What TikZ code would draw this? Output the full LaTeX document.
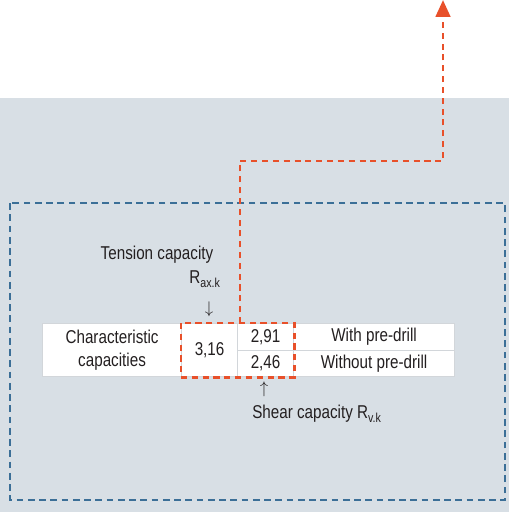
\documentclass[tikz,border=0pt]{standalone}
\usepackage{fontspec}
\setmainfont{Liberation Sans}[FakeStretch=0.82]
\usetikzlibrary{arrows.meta,positioning,calc}
\definecolor{panel}{HTML}{D8DFE5}
\definecolor{frameblue}{HTML}{3B6F97}
\definecolor{pathred}{HTML}{E8502A}
\definecolor{rulegray}{HTML}{D2D6DA}
\definecolor{ink}{HTML}{231F20}

\begin{document}
\begin{tikzpicture}[x=0.025cm, y=-0.025cm, font=\fontsize{13.2}{16}\selectfont, text=ink,
  cell/.style={draw=rulegray, fill=white, line width=0.8pt, inner sep=0pt, align=center, anchor=north west},
  bluedash/.style={draw=frameblue, line width=2pt, dash pattern=on 4.8pt off 3.2pt},
  reddash/.style={draw=pathred, line width=2.1pt, dash pattern=on 4.3pt off 3.4pt}]
  \useasboundingbox (0,0) rectangle (509,512);
  \fill[panel] (0,98) rectangle (509,512);
  \draw[bluedash] (10,203) rectangle (505,500);
  % table
  \node[cell, minimum width=3.475cm, minimum height=1.325cm] (chr) at (42,323) {Characteristic\\capacities};
  \node[cell, minimum width=1.4cm, minimum height=1.325cm] (axv) at (181,323) {3,16};
  \node[cell, minimum width=1.4cm, minimum height=0.675cm] (wv) at (237,323) {2,91};
  \node[cell, minimum width=1.4cm, minimum height=0.65cm] (wov) at (237,350) {2,46};
  \node[cell, minimum width=4.025cm, minimum height=0.675cm] (wlab) at (293,323) {With pre-drill};
  \node[cell, minimum width=4.025cm, minimum height=0.65cm] (wolab) at (293,350) {Without pre-drill};
  \draw[reddash] (axv.north west) rectangle (wov.south east);
  % labels
  \node (tens) at (157,255) {Tension capacity};
  \node (raxk) at (205,279) {R\textsubscript{ax.k}};
  \node (down) at (209,309) {$\downarrow$};
  \node (up) at (264,389) {$\uparrow$};
  \node (shear) at (317,414) {Shear capacity R\textsubscript{v.k}};
  % route out of the box
  \coordinate (start) at ($(wv.north west)+(3,0)$);
  \coordinate (bend) at (443,161);
  \coordinate (tip) at (443,0);
  \draw[reddash, -{Triangle[width=0.36cm, length=0.42cm]}] (start) -- (start |- bend) -- (bend) -- (tip);
\end{tikzpicture}
\end{document}
